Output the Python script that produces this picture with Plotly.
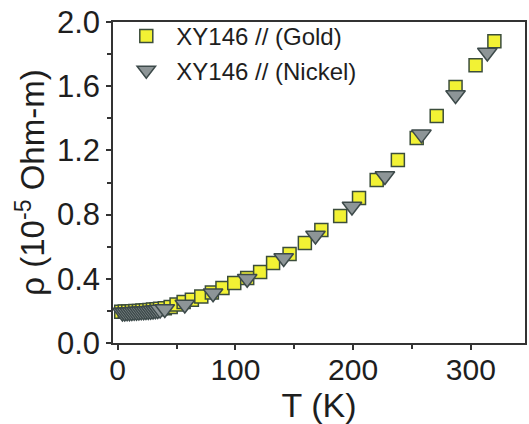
import plotly.graph_objects as go

# Gold contacts
gold_T = [3, 6, 9, 12, 15, 18, 21, 24, 27, 30, 33, 36, 40, 45, 50, 56, 63, 71, 80, 89, 99,
          110, 121, 132, 146, 159, 173, 189, 205, 220, 238, 254, 271, 287, 304, 320]
gold_rho = [0.195, 0.196, 0.197, 0.198, 0.199, 0.200, 0.202, 0.204, 0.206, 0.208, 0.210, 0.213,
            0.217, 0.225, 0.240, 0.255, 0.270, 0.290, 0.315, 0.343, 0.374, 0.405, 0.442, 0.498,
            0.554, 0.623, 0.704, 0.791, 0.903, 1.016, 1.140, 1.277, 1.414, 1.595, 1.730, 1.880]

# Nickel contacts
nickel_T = [4, 6, 8, 10, 12, 14, 16, 18, 20, 22, 24, 26, 28, 30, 32, 34, 36, 40,
            57, 81, 110, 141, 168, 199, 227, 258, 287, 314]
nickel_rho = [0.190, 0.190, 0.191, 0.192, 0.193, 0.194, 0.195, 0.196, 0.197, 0.198, 0.199,
              0.200, 0.201, 0.202, 0.204, 0.206, 0.208, 0.212, 0.240, 0.310, 0.400, 0.530,
              0.670, 0.850, 1.040, 1.300, 1.545, 1.810]

x_ticks = [0, 100, 200, 300]
y_ticks = [0.0, 0.4, 0.8, 1.2, 1.6, 2.0]
y_ticklabels = ["0.0", "0.4", "0.8", "1.2", "1.6", "2.0"]

FONT = "Liberation Sans, Arial, sans-serif"
AX = "#333333"
TXT = "#1e1e1e"

fig = go.Figure()
fig.add_trace(go.Scatter(
    x=gold_T, y=gold_rho, mode="markers", name="XY146 // (Gold)",
    marker=dict(symbol="square", size=13, color="#f2f234",
                line=dict(color="#3b4d3b", width=1.5)),
))
fig.add_trace(go.Scatter(
    x=nickel_T, y=nickel_rho, mode="markers", name="XY146 // (Nickel)",
    marker=dict(symbol="triangle-down", size=17, color="#8d9597",
                line=dict(color="#3d4a4a", width=1.5)),
))

fig.update_layout(
    width=529, height=424,
    margin=dict(l=113, r=2, t=22, b=81),
    paper_bgcolor="white", plot_bgcolor="white",
    font=dict(family=FONT, color=TXT),
    showlegend=True,
    legend=dict(x=0.008, y=1.025, xanchor="left", yanchor="top",
                bgcolor="rgba(0,0,0,0)", font=dict(size=24, family=FONT, color=TXT),
                itemwidth=50, tracegroupgap=0),
    xaxis=dict(
        range=[-4, 346], tickvals=x_ticks, ticktext=[str(v) for v in x_ticks],
        ticks="outside", ticklen=5, tickwidth=1.5, tickcolor=AX,
        minor=dict(tickvals=[50, 150, 250], ticks="outside", ticklen=4, tickcolor=AX),
        showline=True, linecolor=AX, linewidth=1.5, mirror=True,
        showgrid=False, zeroline=False,
        ticklabelstandoff=-6,
        tickfont=dict(size=30, family=FONT, color=TXT),
        title=dict(text="T (K)", font=dict(size=34, family=FONT, color=TXT), standoff=0),
    ),
    yaxis=dict(
        range=[0, 2.0], tickvals=y_ticks, ticktext=y_ticklabels,
        ticks="outside", ticklen=5, tickwidth=1.5, tickcolor=AX,
        minor=dict(tickvals=[0.2, 0.6, 1.0, 1.4, 1.8], ticks="outside", ticklen=4, tickcolor=AX),
        showline=True, linecolor=AX, linewidth=1.5, mirror=True,
        showgrid=False, zeroline=False,
        tickfont=dict(size=31, family=FONT, color=TXT),
        title=dict(text="\u03c1 (10<sup>-5</sup> Ohm-m)", font=dict(size=33, family=FONT, color=TXT),
                   standoff=2),
    ),
)

fig.write_html("out.html")
